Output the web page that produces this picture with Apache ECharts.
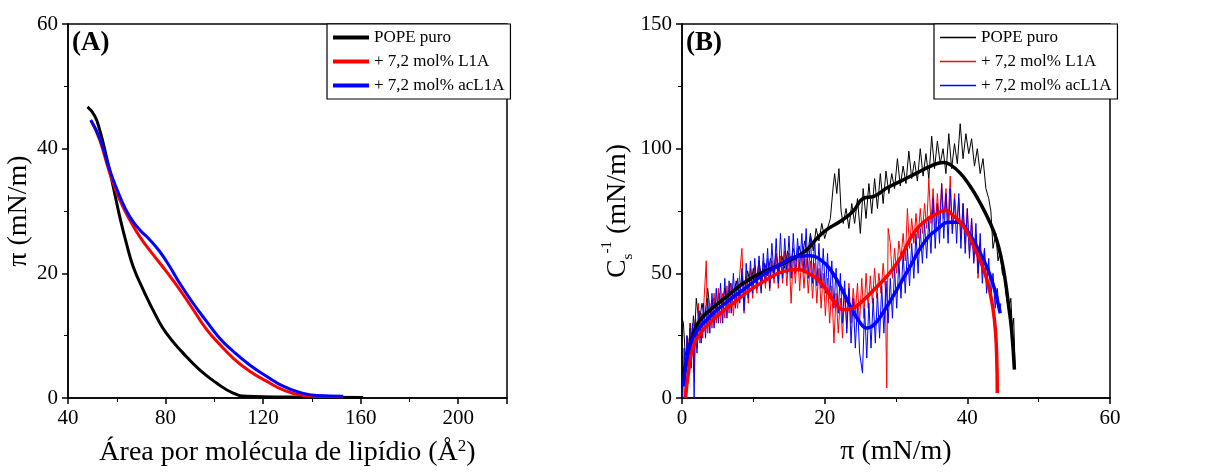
<!DOCTYPE html>
<html><head><meta charset="utf-8">
<script src="https://cdn.jsdelivr.net/npm/echarts@6/dist/echarts.min.js"></script>
<style>html,body{margin:0;padding:0;background:#fff}#c{width:1214px;height:472px}</style>
</head><body><div id="c"></div>
<script>
const seriesNames = ['POPE puro', '+ 7,2 mol% L1A', '+ 7,2 mol% acL1A'];
const colors = ['#000000', '#ff0000', '#0000ff'];

// Panel A: isotherms (area, pi)
const isoPOPE = [[48,46.7],[50.9,45.3],[53,43],[55.7,38.8],[58.5,34],[61.2,29.1],[63.9,24.9],[66.7,21.1],[70.8,17.4],[76.2,13.1],[80.3,10.4],[87.2,7.2],[94,4.5],[100.9,2.4],[107.7,0.8],[113.2,0.27],[130,0.15],[161,0.1]];
const isoL1A = [[49.6,44.4],[53,41.4],[57.1,36.1],[61.2,31.8],[65.3,28.6],[69.4,25.9],[74.9,23],[80.3,20.3],[85.8,17.4],[91.3,14.2],[96.8,11],[102.2,8.6],[107.7,6.4],[114.5,4.3],[121.4,2.7],[128.2,1.3],[135,0.5],[142,0.27],[152.8,0.2]];
const isoAcL1A = [[49.3,44.6],[53,41.7],[57.1,36.6],[61.2,32.4],[65.3,29.1],[69.4,27],[73.5,25.4],[77.6,23.5],[81.7,21.1],[85.8,18.4],[91.3,15.2],[96.8,12.3],[102.2,9.6],[107.7,7.5],[114.5,5.3],[121.4,3.5],[128.2,1.9],[135,0.9],[142,0.4],[152.8,0.27]];

// Panel B: compressibility modulus, raw (thin)
const rawPOPE = [[0,32],[0.2,30],[0.4,20],[0.6,15],[0.8,24],[1.0,18],[1.2,30],[1.4,22],[1.6,33],[1.8,27],[2.0,40],[2.4,30],[2.8,38],[3.2,32],[3.6,44],[4.0,33],[4.4,40],[4.8,35],[5.2,42],[5.6,36],[6.0,44],[6.4,38],[6.8,46],[7.2,40],[7.6,47],[8.0,41],[8.4,49],[8.8,43],[9.2,51],[9.6,45],[10,52],[10.4,46],[10.8,55],[11.2,47],[11.6,54],[12,49],[12.4,56],[12.8,50],[13.2,58],[13.6,51],[14,57],[14.4,52],[14.8,59],[15.2,53],[15.6,60],[16,55],[16.4,61],[16.8,56],[17.2,63],[17.6,57],[18,66],[18.4,59],[18.8,68],[19.2,63],[19.6,70],[20,64],[20.4,68],[20.8,72],[21.2,85],[21.4,90],[21.7,82],[22.0,92],[22.3,75],[22.6,70],[23,76],[23.4,68],[23.8,78],[24.2,70],[24.6,80],[25,66],[25.4,84],[25.8,72],[26.2,86],[26.6,74],[27,88],[27.4,76],[27.8,90],[28.2,78],[28.6,91],[29,82],[29.4,90],[29.8,84],[30.2,96],[30.6,85],[31,93],[31.4,86],[31.8,99],[32.2,88],[32.6,95],[33,87],[33.4,100],[33.8,89],[34.2,98],[34.6,88],[35,105],[35.4,92],[35.8,103],[36.2,94],[36.6,100],[37,90],[37.4,106],[37.8,92],[38.2,102],[38.6,94],[39,110],[39.4,96],[39.8,106],[40.2,98],[40.6,104],[41,93],[41.4,100],[41.8,90],[42.2,96],[42.6,84],[43,80],[43.3,75],[43.6,60],[44,66],[44.3,55],[44.6,59],[44.9,50],[45.2,48],[45.5,40],[45.8,35],[46.1,40],[46.3,28],[46.5,32],[46.7,12]];
const rawL1A = [[0.3,0],[0.5,8],[0.7,25],[0.9,12],[1.1,30],[1.3,14],[1.5,28],[1.7,10],[1.9,32],[2.1,20],[2.3,38],[2.5,22],[2.7,34],[2.9,24],[3.1,40],[3.4,55],[3.6,26],[3.9,38],[4.2,28],[4.5,42],[4.8,30],[5.1,44],[5.4,30],[5.7,42],[6.0,32],[6.3,45],[6.6,34],[6.9,46],[7.2,33],[7.5,44],[7.8,36],[8.1,50],[8.4,60],[8.7,34],[9.0,48],[9.3,38],[9.6,52],[9.9,40],[10.2,53],[10.5,42],[10.8,54],[11.1,43],[11.4,55],[11.7,44],[12.0,56],[12.3,43],[12.6,55],[12.9,46],[13.2,58],[13.5,44],[13.8,57],[14.1,46],[14.4,59],[14.7,45],[15.0,58],[15.3,38],[15.6,57],[15.9,46],[16.2,60],[16.5,43],[16.8,58],[17.1,44],[17.4,56],[17.7,42],[18.0,55],[18.3,40],[18.6,54],[18.9,38],[19.2,52],[19.5,36],[19.8,50],[20.1,33],[20.4,48],[20.7,30],[21.0,45],[21.3,22],[21.6,42],[21.9,26],[22.2,40],[22.5,24],[22.8,44],[23.1,28],[23.4,46],[23.7,30],[24.0,44],[24.3,34],[24.6,46],[24.9,30],[25.2,48],[25.5,32],[25.8,50],[26.1,36],[26.4,49],[26.7,38],[27.0,52],[27.3,40],[27.6,50],[27.9,42],[28.2,54],[28.5,44],[28.7,4],[28.9,68],[29.2,62],[29.5,48],[29.8,60],[30.1,50],[30.4,63],[30.7,56],[31.0,66],[31.3,55],[31.6,76],[31.9,60],[32.2,72],[32.5,62],[32.8,74],[33.1,64],[33.4,76],[33.7,66],[34.0,78],[34.3,68],[34.6,88],[34.9,70],[35.2,84],[35.5,68],[35.8,82],[36.1,70],[36.4,86],[36.7,72],[37.0,84],[37.3,70],[37.6,89],[37.9,66],[38.2,82],[38.5,70],[38.8,80],[39.1,64],[39.4,78],[39.7,62],[40.0,76],[40.3,58],[40.6,72],[40.9,55],[41.2,66],[41.5,48],[41.8,62],[42.1,50],[42.4,60],[42.7,46],[43.0,52]];
const rawAcL1A = [[0.1,0],[0.3,20],[0.5,5],[0.7,25],[0.9,8],[1.1,28],[1.3,12],[1.5,30],[1.7,0],[1.9,32],[2.1,18],[2.4,35],[2.7,22],[3.0,38],[3.3,24],[3.6,40],[3.9,26],[4.2,42],[4.5,28],[4.8,44],[5.1,30],[5.4,46],[5.7,30],[6.0,48],[6.3,32],[6.6,47],[6.9,34],[7.2,50],[7.5,36],[7.8,48],[8.1,38],[8.4,52],[8.7,35],[9.0,54],[9.3,40],[9.6,55],[9.9,42],[10.2,56],[10.5,44],[10.8,57],[11.1,42],[11.4,58],[11.7,46],[12.0,60],[12.3,44],[12.6,62],[12.9,48],[13.2,64],[13.5,46],[13.8,66],[14.1,48],[14.4,64],[14.7,50],[15.0,65],[15.3,48],[15.6,66],[15.9,50],[16.2,64],[16.5,52],[16.8,66],[17.1,50],[17.4,68],[17.7,48],[18.0,65],[18.3,46],[18.6,64],[18.9,45],[19.2,62],[19.5,44],[19.8,60],[20.1,42],[20.4,58],[20.7,40],[21.0,55],[21.3,36],[21.6,52],[21.9,34],[22.2,50],[22.5,30],[22.8,47],[23.1,26],[23.4,44],[23.7,22],[24.0,40],[24.3,20],[24.6,38],[24.9,18],[25.3,10],[25.6,36],[25.9,16],[26.2,38],[26.5,20],[26.8,40],[27.1,22],[27.4,42],[27.7,24],[28.0,45],[28.3,26],[28.6,47],[28.9,30],[29.2,48],[29.5,32],[29.8,52],[30.1,36],[30.4,55],[30.7,40],[31.0,58],[31.3,42],[31.6,60],[31.9,45],[32.2,62],[32.5,48],[32.8,66],[33.1,50],[33.4,68],[33.7,54],[34.0,70],[34.3,56],[34.6,72],[34.9,58],[35.2,80],[35.5,60],[35.8,78],[36.1,62],[36.4,86],[36.7,64],[37.0,82],[37.3,62],[37.6,84],[37.9,66],[38.2,80],[38.5,62],[38.8,82],[39.1,60],[39.4,78],[39.7,58],[40.0,76],[40.3,56],[40.6,72],[40.9,54],[41.2,70],[41.5,50],[41.8,66],[42.1,46],[42.4,60],[42.7,42],[43.0,56],[43.3,40],[43.6,50],[43.9,36],[44.2,44],[44.5,34],[44.7,38]];

// Panel B: smoothed (thick)
const fitPOPE = [[0.3,10],[0.7,15.4],[1.6,26],[2.6,31.4],[4,35.4],[6.3,40.8],[8.6,46],[11,50],[13.3,52.8],[15.6,56],[17.5,59.5],[18.9,64],[20.3,67.5],[22.2,70.9],[24,74.9],[25.5,80.2],[26.9,80.9],[28.7,84.2],[30.6,86.9],[32.9,90.2],[34.8,92.9],[36.7,94.5],[37.6,93.6],[39,90.2],[40.4,84.9],[41.8,78.2],[43.2,70.2],[44.1,63.5],[44.8,55.5],[45.3,47.5],[45.8,36.8],[46.2,27.4],[46.6,11.4]];
const fitL1A = [[0.5,0],[0.9,10],[1.6,20.7],[3,27.4],[4.9,32.8],[7.2,38.1],[9.6,43.4],[11.9,47.5],[14.2,50.8],[16.1,51.5],[18,49.5],[19.9,44.8],[21.3,38.8],[22.7,35.4],[24,36.1],[25.5,39.4],[26.9,43.4],[28.7,48.8],[30.6,56.1],[32.5,66.2],[34.3,71.5],[35.7,73.8],[36.9,75.3],[38.1,72.9],[39.5,68.8],[40.9,60.8],[42.3,51.5],[43.2,42.1],[43.8,31.4],[44.1,18],[44.2,2]];
const fitAcL1A = [[0.2,4.7],[0.7,15.4],[1.6,24.7],[3.5,31.4],[5.8,37.4],[8.6,43.4],[11.4,49.5],[13.8,53.5],[16.1,56.8],[18,57.1],[19.4,55.5],[20.8,51.5],[22.2,44.8],[23.6,36.8],[25,30.1],[25.9,28.1],[26.9,29.4],[28.3,34.8],[30.1,43.4],[32,52.8],[33.9,62.2],[35.7,67.5],[37.6,70.5],[38.8,70.5],[39.9,67.5],[41.3,60.8],[42.7,52.8],[43.7,44.8],[44.4,36.8],[44.6,34]];

const FONT = 'Liberation Serif';
function axisBase(extra) {
  return Object.assign({
    type: 'value',
    axisLine: { show: true, onZero: false, lineStyle: { color: '#000', width: 1.5 } },
    axisTick: { show: true, inside: false, length: 6, lineStyle: { color: '#000', width: 1.5 } },
    minorTick: { show: true, splitNumber: 2, length: 4, lineStyle: { color: '#000', width: 1 } },
    splitLine: { show: false },
    axisLabel: { color: '#000', fontFamily: FONT, fontSize: 21, margin: 10 },
    nameLocation: 'middle',
    nameTextStyle: { color: '#000', fontFamily: FONT, fontSize: 28 }
  }, extra);
}

const chart = echarts.init(document.getElementById('c'), null, { renderer: 'canvas' });

const isoData = [isoPOPE, isoL1A, isoAcL1A];
const rawData = [rawPOPE, rawL1A, rawAcL1A];
const fitData = [fitPOPE, fitL1A, fitAcL1A];

const series = [];
isoData.forEach((d, i) => series.push({
  name: seriesNames[i], type: 'line', xAxisIndex: 0, yAxisIndex: 0, data: d,
  showSymbol: false, symbol: 'none', smooth: true,
  lineStyle: { color: colors[i], width: 3 }, itemStyle: { color: colors[i] }, z: 2 + i
}));
rawData.forEach((d, i) => series.push({
  name: 'B ' + seriesNames[i], type: 'line', xAxisIndex: 1, yAxisIndex: 1, data: d,
  showSymbol: false, symbol: 'none',
  lineStyle: { color: colors[i], width: 1 }, itemStyle: { color: colors[i] }, z: 2
}));
[0, 2, 1].forEach(i => series.push({
  name: 'fit ' + seriesNames[i], type: 'line', xAxisIndex: 1, yAxisIndex: 1, data: fitData[i],
  showSymbol: false, symbol: 'none', smooth: true,
  lineStyle: { color: colors[i], width: 3.5 }, itemStyle: { color: colors[i] }, z: 3
}));

const legendCommon = {
  orient: 'vertical', top: 24, itemWidth: 36, itemGap: 7, icon: 'rect',
  padding: [5, 6, 5, 6], borderColor: '#000', borderWidth: 1.2, backgroundColor: '#fff',
  textStyle: { color: '#000', fontFamily: FONT, fontSize: 17, lineHeight: 17 }, selectedMode: false
};

chart.setOption({
  backgroundColor: '#fff',
  animation: false,
  grid: [
    { left: 68, top: 24, width: 439, height: 374, show: true, borderColor: '#000', borderWidth: 1.5, containLabel: false },
    { left: 682, top: 24, width: 428, height: 374, show: true, borderColor: '#000', borderWidth: 1.5, containLabel: false }
  ],
  xAxis: [
    axisBase({ gridIndex: 0, min: 40, max: 220, interval: 40, name: 'Área por molécula de lipídio (Å{sup|2})', nameGap: 40,
      axisLabel: { color: '#000', fontFamily: FONT, fontSize: 21, margin: 10, showMaxLabel: false },
      nameTextStyle: { color: '#000', fontFamily: FONT, fontSize: 28, rich: { sup: { fontFamily: FONT, fontSize: 17, color: '#000', verticalAlign: 'top', lineHeight: 30 } } } }),
    axisBase({ gridIndex: 1, min: 0, max: 60, interval: 20, name: 'π (mN/m)', nameGap: 40 })
  ],
  yAxis: [
    axisBase({ gridIndex: 0, min: 0, max: 60, interval: 20, name: 'π (mN/m)', nameGap: 32 }),
    axisBase({ gridIndex: 1, min: 0, max: 150, interval: 50, name: '{m|C}{sub|s}{sup|-1}{m| (mN/m)}', nameGap: 46,
      nameTextStyle: { color: '#000', fontFamily: FONT, fontSize: 28, rich: {
        m: { fontFamily: FONT, fontSize: 28, color: '#000', lineHeight: 36, verticalAlign: 'middle' },
        sub: { fontFamily: FONT, fontSize: 15, color: '#000', lineHeight: 36, verticalAlign: 'bottom' },
        sup: { fontFamily: FONT, fontSize: 15, color: '#000', lineHeight: 36, verticalAlign: 'top' }
      } } })
  ],
  legend: [
    Object.assign({}, legendCommon, { left: 327, itemHeight: 4,
      data: seriesNames.map((n, i) => ({ name: n, itemStyle: { color: colors[i] } })) }),
    Object.assign({}, legendCommon, { left: 934, itemHeight: 1.3,
      data: seriesNames.map((n, i) => ({ name: 'B ' + n, itemStyle: { color: colors[i] } })),
      formatter: n => n.slice(2) })
  ],
  graphic: [
    { type: 'text', left: 72, top: 30, style: { text: '(A)', font: 'bold 27px "Liberation Serif"', fill: '#000' } },
    { type: 'text', left: 686, top: 30, style: { text: '(B)', font: 'bold 27px "Liberation Serif"', fill: '#000' } }
  ],
  series: series
});
</script></body></html>
